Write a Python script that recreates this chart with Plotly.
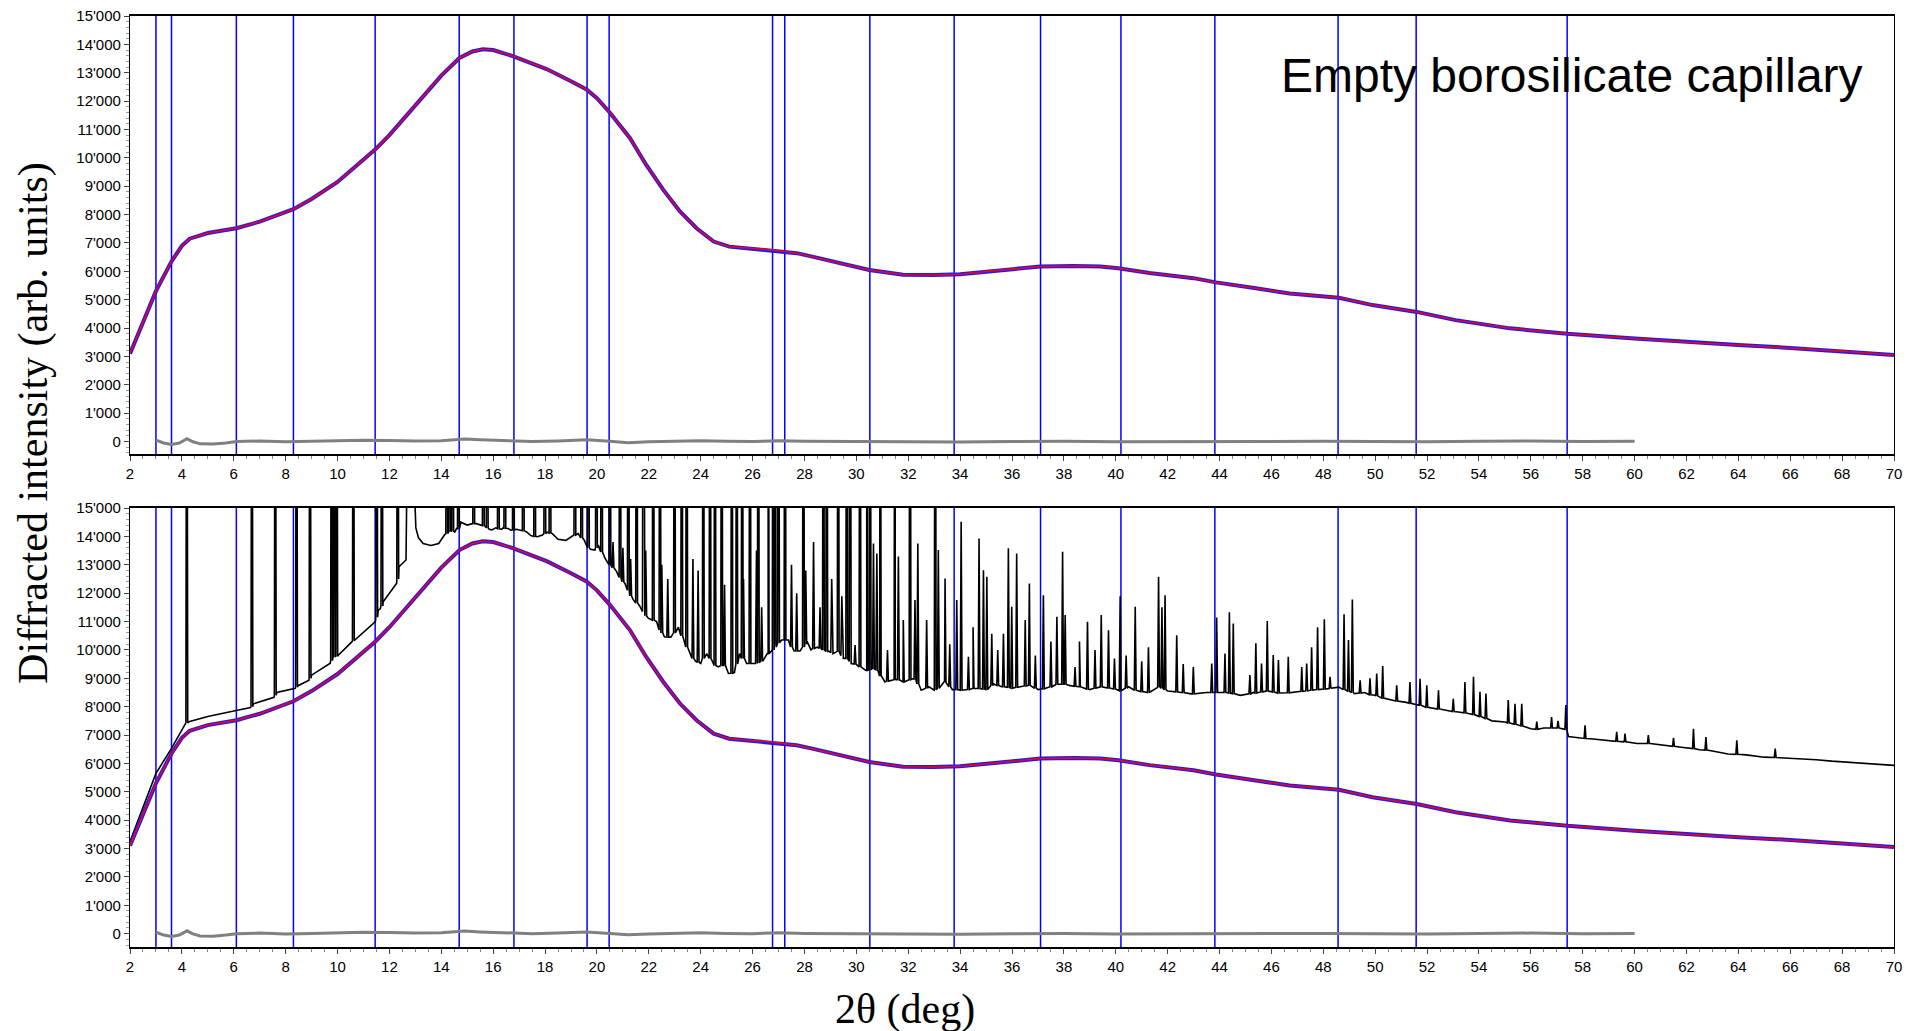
import plotly.graph_objects as go

# ---------------- data ----------------
# capillary background (observed blue / fitted red), 2theta in deg
bg_x = [2.0, 2.5, 3.0, 3.6, 4.0, 4.3, 5.0, 6.1, 7.0, 8.3, 9.0, 10.0, 11.45, 12.0, 13.0, 14.0,
        14.7, 15.2, 15.6, 16.0, 16.78, 18.06, 19.0, 19.6, 20.0, 20.5, 21.27, 21.9, 22.56, 23.2,
        23.84, 24.5, 25.1, 25.8, 26.8, 27.7, 28.3, 29.2, 30.5, 31.8, 33.0, 34.0, 35.0, 36.0,
        37.1, 38.4, 39.4, 40.1, 41.3, 43.0, 43.86, 45.4, 46.7, 48.6, 49.9, 51.6, 53.1, 55.2,
        57.4, 60.0, 62.0, 64.0, 66.0, 68.0, 70.0]
bg_y = [3100, 4200, 5300, 6350, 6900, 7150, 7350, 7520, 7750, 8190, 8550, 9150, 10290, 10800,
        11850, 12900, 13520, 13750, 13830, 13800, 13580, 13130, 12700, 12410, 12100, 11590,
        10700, 9750, 8870, 8110, 7520, 7050, 6870, 6810, 6750, 6640, 6520, 6320, 6050, 5880,
        5870, 5900, 5990, 6080, 6170, 6190, 6170, 6110, 5940, 5760, 5610, 5400, 5220, 5070,
        4810, 4570, 4280, 3990, 3800, 3630, 3500, 3400, 3300, 3180, 3050]

# difference curve (grey)
res_x = [3.0, 3.3, 3.6, 3.9, 4.2, 4.4, 4.7, 5.2, 5.7, 6.1, 7.0, 8.0, 9.0, 10.0, 11.0, 12.0,
         13.0, 14.0, 14.9, 15.5, 16.5, 17.5, 18.5, 19.6, 20.5, 21.2, 22.0, 23.0, 24.0, 25.0,
         26.0, 27.0, 28.0, 30.0, 32.0, 34.0, 36.0, 38.0, 40.0, 42.0, 44.0, 46.0, 48.0, 50.0,
         52.0, 54.0, 56.0, 58.0, 60.0]
res_y = [50, -50, -100, -50, 100, 0, -80, -90, -50, 0, 20, -10, 10, 40, 50, 40, 20, 30, 90,
         60, 20, 0, 20, 60, 10, -40, -10, 20, 30, 10, 0, 30, 10, 0, -10, -20, 0, 10, -10, 0,
         10, 0, 10, 0, -10, 10, 20, 0, 10]

# sample pattern (black): background level between reflections
obs_x = [2.0, 2.5, 3.0, 3.6, 4.12, 4.3, 5.0, 6.0, 6.65, 6.76, 7.55, 7.66, 8.37, 8.48, 8.9, 9.0,
         9.72, 9.82, 9.92, 10.03, 10.56, 10.67, 11.46, 11.57, 11.65, 11.76, 12.09, 12.28, 12.37,
         12.64, 12.68, 12.93, 13.02, 13.12, 13.3, 13.6, 13.9, 14.12, 14.28, 14.38, 14.52, 14.6,
         14.75, 15.0, 15.2, 15.35, 15.55, 15.7, 15.85, 15.95, 16.1, 16.32, 16.38, 16.58, 16.68,
         16.9, 17.05, 17.3, 17.45, 17.7, 17.9, 18.08, 18.28, 18.5, 18.8, 19.05, 19.28, 19.52,
         19.75, 19.92, 20.05, 20.31, 20.76, 21.08, 21.4, 21.66, 21.98, 22.3, 22.6, 22.85, 23.14,
         23.6, 23.8, 24.0, 24.23, 24.49, 24.68, 24.95, 25.07, 25.3, 25.5, 25.77, 26.03, 26.42,
         26.6, 26.9, 27.12, 27.38, 27.6, 27.83, 28.1, 28.25, 28.5, 28.95, 29.1, 29.5, 29.8,
         30.1, 30.4, 30.6, 30.9, 31.1, 31.5, 31.8, 32.2, 32.5, 32.8, 33.0, 33.4, 33.7, 34.0,
         34.5, 35.0, 35.3, 35.6, 36.0, 36.3, 36.7, 37.0, 37.3, 37.8, 38.2, 38.6, 39.0, 39.4,
         39.8, 40.2, 40.5, 40.9, 41.3, 41.7, 42.0, 42.5, 42.9, 43.5, 44.0, 44.8, 45.3, 45.8,
         46.3, 46.8, 47.3, 47.8, 48.3, 48.6, 49.2, 49.6, 50.0, 50.6, 51.2, 51.9, 52.6, 53.2,
         53.9, 54.5, 55.0, 55.5, 56.0, 56.5, 57.0, 57.3, 57.45, 57.8, 58.3, 59.0, 59.6, 60.1,
         60.6, 61.2, 61.8, 62.5, 63.0, 63.6, 64.3, 65.0, 65.6, 66.3, 67.0, 67.6, 68.3, 69.0,
         69.5, 70.0]
obs_y = [3250, 4450, 5650, 6530, 7380, 7480, 7650, 7850, 7970, 8100, 8330, 8500, 8650, 8740,
         8930, 9110, 9530, 9740, 9760, 9810, 10290, 10350, 11000, 11400, 11450, 11700, 12110,
         12350, 12930, 13170, 16500, 16500, 14300, 13950, 13750, 13680, 13750, 14050, 14150,
         14200, 14150, 14300, 14500, 14400, 14450, 14450, 14400, 14350, 14250, 14230, 14300,
         14250, 14300, 14280, 14220, 14250, 14230, 14150, 14030, 13990, 14050, 14150, 14100,
         13900, 13860, 14000, 14100, 13850, 13550, 13520, 13700, 13230, 12760, 12340, 11770,
         11530, 11120, 11000, 10460, 10450, 10800, 9840, 9600, 9520, 9870, 9520, 9400, 9500,
         9170, 9200, 9870, 9520, 9520, 9640, 9870, 10200, 10350, 10350, 9960, 9960, 10300,
         10000, 10100, 9950, 9870, 9700, 9520, 9400, 9280, 9350, 9100, 8870, 9000, 8870, 9000,
         8580, 8700, 8580, 8900, 8600, 8580, 8650, 8600, 8800, 8700, 8650, 8700, 8750, 8600,
         8650, 8800, 8750, 8700, 8600, 8700, 8650, 8550, 8700, 8550, 8500, 8700, 8550, 8500,
         8450, 8500, 8500, 8400, 8500, 8550, 8480, 8500, 8550, 8600, 8650, 8690, 8460, 8500,
         8400, 8230, 8150, 7990, 7900, 7810, 7700, 7500, 7460, 7350, 7220, 7250, 7250, 7200,
         6950, 6900, 6870, 6800, 6750, 6700, 6700, 6620, 6570, 6480, 6440, 6330, 6300, 6220,
         6200, 6170, 6130, 6080, 6040, 6000, 5980, 5930]

# reflections of the sample: position, apex (30000 = off scale), foot level
peak_x = [4.19, 6.70, 7.60, 8.42, 8.94, 9.77, 9.87, 9.97, 10.61, 11.51, 11.71, 12.32, 14.21,
          14.33, 14.44, 14.66, 15.25, 15.62, 15.77, 16.2, 16.45, 16.78, 17.16, 17.6, 17.99,
          18.19, 19.15, 19.41, 19.67, 19.98, 20.18, 20.5, 20.62, 20.89, 21.0, 21.21, 21.3,
          21.53, 21.79, 21.88, 22.17, 22.43, 22.5, 22.73, 22.99, 23.27, 23.46, 23.7, 23.9,
          24.1, 24.36, 24.55, 24.81, 24.92, 25.2, 25.39, 25.6, 25.65, 25.9, 26.15, 26.22,
          26.35, 26.6, 26.8, 26.88, 27.0, 27.25, 27.5, 27.7, 27.96, 28.05, 28.35, 28.6, 28.73,
          28.86, 29.05, 29.3, 29.44, 29.63, 29.76, 29.95, 30.14, 30.4, 30.53, 30.66, 30.79,
          30.92, 31.2, 31.49, 31.62, 31.81, 32.07, 32.26, 32.37, 32.71, 33.04, 33.16, 33.42,
          33.6, 33.87, 34.04, 34.32, 34.5, 34.73, 34.9, 35.03, 35.22, 35.45, 35.67, 35.86,
          35.99, 36.18, 36.51, 36.67, 36.9, 37.21, 37.5, 37.73, 37.95, 38.05, 38.43, 38.6,
          38.91, 39.2, 39.44, 39.72, 39.95, 40.17, 40.4, 40.75, 41.0, 41.26, 41.65, 41.78,
          41.9, 42.35, 42.6, 42.99, 43.7, 43.89, 44.21, 44.38, 44.53, 45.17, 45.4, 45.62,
          45.84, 46.07, 46.27, 46.65, 47.17, 47.36, 47.55, 47.78, 48.04, 48.26, 48.8, 48.97,
          49.12, 49.42, 49.8, 50.06, 50.29, 50.83, 51.34, 51.73, 51.99, 52.44, 53.01, 53.46,
          53.79, 54.04, 54.27, 55.13, 55.39, 55.65, 56.23, 56.8, 57.05, 57.35, 58.09, 59.31,
          59.63, 60.53, 61.5, 62.27, 62.75, 63.94, 65.42]
peak_top = [30000, 30000, 30000, 30000, 30000, 30000, 30000, 30000, 30000, 30000, 30000, 30000,
            30000, 30000, 30000, 30000, 30000, 30000, 30000, 30000, 30000, 30000, 30000, 30000,
            30000, 30000, 30000, 30000, 30000, 30000, 30000, 30000, 13800, 30000, 13600, 30000,
            13200, 30000, 30000, 13500, 30000, 30000, 13000, 12500, 30000, 30000, 30000, 13200,
            12800, 30000, 30000, 30000, 30000, 12300, 30000, 30000, 30000, 12500, 30000, 13500,
            30000, 11500, 30000, 30000, 30000, 30000, 30000, 13000, 12000, 30000, 12800, 13800,
            11500, 30000, 30000, 12500, 30000, 11890, 30000, 30000, 10170, 30000, 30000, 30000,
            13750, 13400, 30000, 10000, 30000, 13290, 11050, 30000, 11760, 13750, 11050, 30000,
            13520, 12520, 10200, 11760, 14520, 9760, 10800, 13930, 12810, 12580, 10570, 10000,
            10570, 13580, 11520, 13400, 11050, 12340, 9800, 11930, 10300, 11170, 13460, 11230,
            9400, 10300, 10990, 10000, 11230, 10690, 9700, 11890, 9800, 11520, 9600, 10090,
            12580, 11500, 11930, 10520, 9500, 9400, 9520, 11140, 9870, 11330, 10930, 9110,
            10230, 9520, 11020, 9820, 9640, 9760, 9400, 9520, 10090, 10800, 11080, 9050, 11260,
            10350, 11780, 8930, 9000, 9170, 9430, 8750, 8870, 8980, 8750, 8580, 8280, 8870,
            9050, 8520, 8460, 8230, 8100, 8100, 7470, 7630, 7500, 8060, 7340, 7110, 7050, 7000,
            6900, 7220, 6930, 6810, 6520]
peak_base = [7430, 8000, 8400, 8690, 9000, 9620, 9750, 9780, 10320, 11150, 11550, 12500, 14100,
             14170, 14180, 14250, 14450, 14380, 14300, 14270, 14290, 14230, 14200, 14000, 14100,
             14120, 14050, 13950, 13600, 13600, 13450, 13000, 12900, 12550, 12400, 12100, 11900,
             11650, 11350, 11200, 11050, 10700, 10600, 10450, 10600, 10500, 10100, 9700, 9560,
             9700, 9700, 9450, 9450, 9450, 9180, 9500, 9700, 9700, 9520, 9520, 9550, 9600, 9870,
             10000, 10100, 10250, 10350, 10100, 9960, 10100, 10200, 10050, 10050, 10000, 9950,
             9900, 9950, 9800, 9700, 9600, 9500, 9400, 9280, 9300, 9330, 9300, 9100, 8900, 8950,
             8950, 8870, 8950, 8950, 8800, 8650, 8600, 8650, 8850, 8700, 8600, 8580, 8600, 8650,
             8640, 8620, 8600, 8750, 8750, 8700, 8680, 8650, 8680, 8730, 8750, 8650, 8630, 8700,
             8780, 8790, 8790, 8720, 8700, 8620, 8650, 8700, 8660, 8620, 8560, 8650, 8580, 8530,
             8500, 8680, 8650, 8600, 8520, 8500, 8450, 8500, 8500, 8500, 8480, 8460, 8450, 8480,
             8520, 8550, 8520, 8480, 8490, 8540, 8560, 8580, 8600, 8620, 8640, 8600, 8550, 8500,
             8480, 8420, 8380, 8300, 8200, 8120, 8050, 7980, 7920, 7830, 7780, 7720, 7650, 7580,
             7430, 7380, 7320, 7200, 7250, 7250, 7200, 6880, 6780, 6760, 6700, 6600, 6520, 6470,
             6320, 6210]

# reflection markers (vertical blue lines)
refl_pos = [3.0, 3.6, 6.1, 8.3, 11.45, 14.69, 16.8, 19.62, 20.47, 26.77, 27.24, 30.52,
            33.77, 37.1, 40.2, 43.82, 48.57, 51.58, 57.4]

x_ticks = list(range(2, 71, 2))
y_ticks = list(range(0, 15001, 1000))

# ---------------- assemble the sample trace ----------------
HW = 0.035
pts = list(zip(obs_x, obs_y))
for px, pt, pb in zip(peak_x, peak_top, peak_base):
    pts += [(px - HW, pb), (px, pt), (px + HW, pb)]
pts.sort()
sx = [p[0] for p in pts]
sy = [p[1] for p in pts]

fig = go.Figure()

BLUE = "#1a1aff"
for ax in ("1", "2"):
    xa = "x" if ax == "1" else "x2"
    ya = "y" if ax == "1" else "y2"
    if ax == "2":
        fig.add_trace(go.Scatter(x=sx, y=sy, xaxis=xa, yaxis=ya, mode="lines",
                                 line=dict(color="black", width=1.6), showlegend=False))
    fig.add_trace(go.Scatter(x=res_x, y=res_y, xaxis=xa, yaxis=ya, mode="lines",
                             line=dict(color="#808080", width=3), showlegend=False))
    fig.add_trace(go.Scatter(x=bg_x, y=bg_y, xaxis=xa, yaxis=ya, mode="lines",
                             line=dict(color=BLUE, width=4), showlegend=False))
    fig.add_trace(go.Scatter(x=bg_x, y=bg_y, xaxis=xa, yaxis=ya, mode="lines",
                             line=dict(color="#ff0000", width=1.5), showlegend=False))

shapes = []
for xr, yr in (("x", "y domain"), ("x2", "y2 domain")):
    for p in refl_pos:
        shapes.append(dict(type="line", xref=xr, yref=yr, x0=p, x1=p, y0=0, y1=1,
                           line=dict(color="#0000ff", width=1.5), layer="below"))

FONT = "Liberation Sans, Arial, sans-serif"
SERIF = "Liberation Serif, Times New Roman, serif"

xcommon = dict(range=[2, 70], tickmode="array", tickvals=x_ticks, ticks="outside",
               ticklen=5, tickwidth=1, tickcolor="#444", automargin=False,
               minor=dict(tickmode="linear", tick0=2, dtick=0.5, ticklen=3, tickcolor="#888",
                          ticks="outside"),
               showline=True, mirror=True, linecolor="black", linewidth=1.5,
               showgrid=False, zeroline=False,
               tickfont=dict(family=FONT, size=15, color="black"))
ycommon = dict(tickmode="array", tickvals=y_ticks, tickformat=",d", ticks="outside",
               ticklen=5, tickwidth=1, tickcolor="#444", automargin=False,
               minor=dict(tickmode="linear", tick0=0, dtick=200, ticklen=3, tickcolor="#999",
                          ticks="outside"),
               showline=True, mirror=True, linecolor="black", linewidth=1.2,
               showgrid=False, zeroline=False,
               tickfont=dict(family=FONT, size=15, color="black"))

fig.update_layout(
    width=1911, height=1031,
    margin=dict(l=130, r=17, t=16, b=84),
    paper_bgcolor="white", plot_bgcolor="white",
    separators=".'",
    xaxis=dict(domain=[0, 1], anchor="y", **xcommon),
    yaxis=dict(domain=[0.5295, 1], anchor="x", range=[-440, 15000], **ycommon),
    xaxis2=dict(domain=[0, 1], anchor="y2", **xcommon),
    yaxis2=dict(domain=[0, 0.4715], anchor="x2", range=[-470, 15000], **ycommon),
    shapes=shapes,
    annotations=[
        dict(text="Empty borosilicate capillary", xref="paper", yref="paper",
             x=0.9836, y=0.936, xanchor="right", yanchor="middle", showarrow=False,
             font=dict(family=FONT, size=48, color="black")),
        dict(text="Diffracted intensity (arb. units)", xref="paper", yref="paper",
             x=-0.0544, y=0.563, xanchor="center", yanchor="middle", textangle=-90,
             showarrow=False, font=dict(family=SERIF, size=42, color="black")),
        dict(text="2θ (deg)", xref="paper", yref="paper",
             x=0.4394, y=-0.0666, xanchor="center", yanchor="middle", showarrow=False,
             font=dict(family=SERIF, size=42, color="black")),
    ],
)

fig.write_html("out.html", config={"displayModeBar": False},
               post_script="document.body.style.margin='0';document.body.style.overflow='hidden';")
